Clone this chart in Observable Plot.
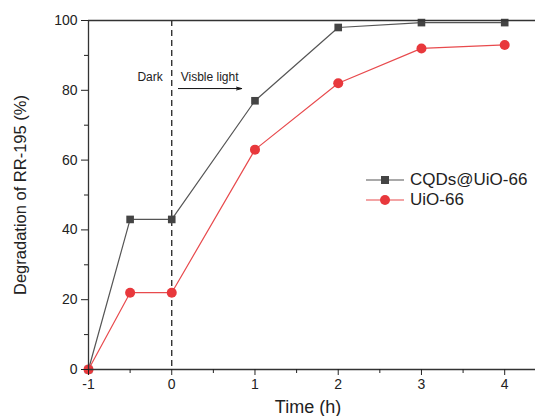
<!DOCTYPE html>
<html>
<head>
<meta charset="utf-8">
<script src="https://cdn.jsdelivr.net/npm/d3@7"></script>
<script src="https://cdn.jsdelivr.net/npm/@observablehq/plot@0.6"></script>
<style>
  html, body { margin: 0; padding: 0; background: #fff; }
  #wrap { position: relative; width: 535px; height: 416px; font-family: "Liberation Sans", Arial, sans-serif; }
  #legend { position: absolute; left: 366px; top: 170px; font-size: 17px; color: #222; line-height: 20px; }
  #legend div { display: flex; align-items: center; white-space: nowrap; }
  #legend svg { margin-right: 4px; }
</style>
</head>
<body>
<div id="wrap"></div>
<script>
const times = [-1, -0.5, 0, 1, 2, 3, 4];
const seriesNames = ["CQDs@UiO-66", "UiO-66"];
const cqdsValues = [0, 43, 43, 77, 98, 99.4, 99.4];
const uioValues = [0, 22, 22, 63, 82, 92, 93];
const xMajorTicks = [-1, 0, 1, 2, 3, 4];
const xMinorTicks = [-0.5, 0.5, 1.5, 2.5, 3.5];
const yMajorTicks = [0, 20, 40, 60, 80, 100];
const yMinorTicks = [10, 30, 50, 70, 90];
const colors = ["#444444", "#e8383c"];
const lineColors = ["#555555", "#e84a4d"];

const cqds = times.map((t, i) => ({t, v: cqdsValues[i], s: seriesNames[0]}));
const uio = times.map((t, i) => ({t, v: uioValues[i], s: seriesNames[1]}));

const chart = Plot.plot({
  width: 535,
  height: 416,
  marginLeft: 88,
  marginTop: 20,
  marginBottom: 47,
  marginRight: 0,
  style: {fontFamily: '"Liberation Sans", Arial, sans-serif', fontSize: "14px", color: "#222", background: "#fff"},
  x: {domain: [-1, 4.37]},
  y: {domain: [0, 100]},
  marks: [
    Plot.ruleX([0], {stroke: "#222", strokeWidth: 1.3, strokeDasharray: "6,4"}),
    Plot.line(cqds, {x: "t", y: "v", stroke: lineColors[0], strokeWidth: 1.2}),
    Plot.line(uio, {x: "t", y: "v", stroke: lineColors[1], strokeWidth: 1.2}),
    Plot.dot(cqds, {x: "t", y: "v", symbol: "square", r: 4.3, fill: colors[0], stroke: "none"}),
    Plot.dot(uio, {x: "t", y: "v", symbol: "circle", r: 5, fill: colors[1], stroke: "none"}),
    Plot.ruleY([0], {stroke: "#333", strokeWidth: 1.3}),
    Plot.ruleY([100], {stroke: "#333", strokeWidth: 1.3}),
    Plot.ruleX([-1], {stroke: "#333", strokeWidth: 1.3}),
    Plot.axisX({ticks: xMajorTicks, tickSize: 6, tickPadding: 4, fontSize: 14, tickFormat: d => d, label: "Time (h)", labelAnchor: "center", labelArrow: "none", labelOffset: 43}),
    Plot.axisX({ticks: xMinorTicks, tickSize: 4, tickFormat: () => "", label: null}),
    Plot.axisY({ticks: yMajorTicks, tickSize: 7, tickPadding: 4, fontSize: 14, label: "Degradation of RR-195 (%)", labelAnchor: "center", labelArrow: "none", labelOffset: 74}),
    Plot.axisY({ticks: yMinorTicks, tickSize: 4, tickFormat: () => "", label: null}),
    Plot.text(["Dark"], {x: 0, y: 83.7, dx: -9, textAnchor: "end", fontSize: 12, fill: "#222"}),
    Plot.text(["Visble light"], {x: 0, y: 83.7, dx: 9, textAnchor: "start", fontSize: 12, fill: "#222"}),
    Plot.arrow([{x1: 0.08, x2: 0.84, y: 80.5}], {x1: "x1", x2: "x2", y1: "y", y2: "y", stroke: "#111", strokeWidth: 1, headLength: 8, headAngle: 30})
  ]
});

// axis title sizes
chart.querySelectorAll("g[aria-label='y-axis label'] text").forEach(t => {
  t.setAttribute("font-size", "16.5");
  t.style.fontSize = "16.5px";
});
chart.querySelectorAll("g[aria-label='x-axis label'] text").forEach(t => {
  t.setAttribute("font-size", "18");
  t.style.fontSize = "18px";
  t.setAttribute("dx", "-4");
});

const wrap = document.getElementById("wrap");
wrap.appendChild(chart);

const legend = document.createElement("div");
legend.id = "legend";
seriesNames.forEach((name, i) => {
  const row = document.createElement("div");
  const marker = i === 0
    ? `<rect x="15" y="6" width="8" height="8" fill="${colors[0]}"/>`
    : `<circle cx="19" cy="10" r="5" fill="${colors[1]}"/>`;
  row.innerHTML = `<svg width="40" height="20"><line x1="0" x2="38" y1="10" y2="10" stroke="${lineColors[i]}" stroke-width="1.2"/>${marker}</svg><span>${name}</span>`;
  legend.appendChild(row);
});
wrap.appendChild(legend);
</script>
</body>
</html>
